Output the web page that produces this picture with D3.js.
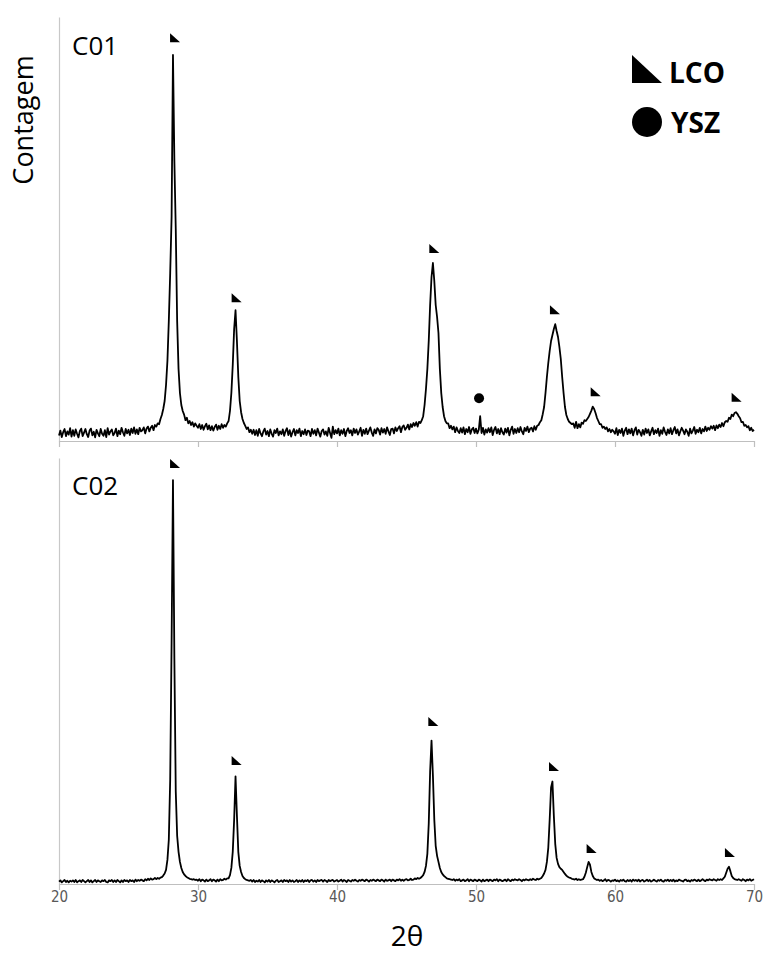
<!DOCTYPE html>
<html><head><meta charset="utf-8">
<script src="https://cdn.jsdelivr.net/npm/d3@7"></script>
<style>body{margin:0;background:#fff} svg{display:block}</style>
</head><body>
<svg id="c" width="764" height="958"></svg>
<script>
// 2θ grid: 20.0 .. 70.0, step 0.1
const thetaStart = 20, thetaStep = 0.1;
const xTicks = [20, 30, 40, 50, 60, 70];
const panelLabels = ["C01", "C02"];
const legendLabels = ["LCO", "YSZ"];

const countsC01 = [
 14,26,10,22,30,12,24,16,32,11,
 27,13,29,18,9,25,31,12,21,30,
 17,10,26,31,14,23,9,28,19,12,
 30,18,13,27,10,32,16,24,29,14,
 20,31,12,26,17,33,22,13,30,19,
 28,15,31,20,34,18,29,17,33,24,
 27,34,19,31,36,24,33,38,27,40,
 36,44,42,55,65,80,100,140,200,300,
 420,560,965,700,530,300,180,120,90,75,
 66,52,58,44,50,40,47,36,44,38,
 33,42,30,40,28,37,43,29,39,27,
 37,26,35,41,28,38,30,42,33,40,
 36,44,50,75,120,190,280,327,250,160,
 100,72,55,45,38,30,34,22,28,18,
 28,15,27,13,30,19,12,24,31,16,
 25,12,29,18,11,27,20,31,14,24,
 17,29,13,25,32,15,27,11,22,30,
 14,27,20,31,12,25,17,29,15,26,
 24,12,30,18,27,14,31,21,11,25,
 29,16,24,13,33,20,8,36,17,27,
 19,31,14,27,18,30,12,25,32,20,
 27,14,31,20,29,16,24,33,13,28,
 18,31,17,26,34,21,13,29,19,32,
 28,16,32,21,30,18,34,24,15,30,
 31,19,34,25,32,37,22,35,39,28,
 33,41,29,42,35,45,38,47,36,48,
 45,52,62,90,130,180,250,340,410,445,
 400,340,310,270,180,120,85,62,50,44,
 44,32,38,29,36,22,34,25,20,32,
 21,34,17,30,22,35,18,29,33,20,
 31,19,28,62,20,33,16,29,21,32,
 22,34,15,28,35,19,30,17,32,22,
 16,31,21,33,14,28,36,18,30,20,
 32,22,35,24,17,33,25,36,22,31,
 33,24,37,28,38,40,47,52,67,85,
 120,160,195,225,250,265,280,292,275,260,
 235,205,160,120,85,65,55,48,45,42,
 44,33,48,32,42,34,46,43,52,50,
 55,60,68,76,86,80,70,58,50,42,
 42,33,36,30,34,24,30,22,28,24,
 18,32,15,28,20,31,13,26,33,17,
 29,19,31,14,27,34,16,28,22,13,
 28,16,31,20,29,14,24,33,17,27,
 20,31,13,27,18,34,23,15,29,19,
 32,17,27,35,19,29,14,24,33,26,
 17,29,23,13,31,19,26,35,18,28,
 22,33,19,30,24,36,25,33,28,37,
 31,38,27,39,32,41,35,45,37,47,
 50,48,58,55,66,62,70,72,68,62,
 57,47,48,38,40,34,37,27,33,25,
 28
];

const countsC02 = [
 6,9,4,7,10,5,8,4,8,6,
 9,5,10,4,7,9,5,10,7,4,
 7,10,5,9,4,7,10,5,9,7,
 5,9,7,10,5,4,9,7,10,5,
 9,5,10,7,4,9,5,10,7,9,
 5,10,7,9,5,11,7,10,8,11,
 9,7,12,9,13,10,14,11,12,15,
 12,15,13,16,17,21,26,35,60,110,
 260,600,1005,560,230,120,80,55,40,30,
 24,20,17,15,13,12,11,12,10,11,
 8,12,7,11,9,6,11,7,9,12,
 7,11,9,6,11,7,12,9,10,13,
 11,14,14,22,40,80,160,268,170,80,
 45,30,20,15,12,10,9,8,10,6,
 10,5,8,6,10,5,9,7,4,9,
 6,10,5,9,7,4,8,10,5,7,
 9,5,10,7,9,5,10,6,9,5,
 7,10,5,9,6,10,5,9,7,10,
 5,9,10,6,9,5,10,7,9,10,
 6,10,8,5,10,7,9,10,6,8,
 10,6,8,11,6,10,8,5,10,8,
 6,10,8,11,8,6,10,8,11,9,
 7,11,9,6,10,8,11,9,7,11,
 9,7,11,9,6,11,8,9,11,7,
 11,9,7,11,9,12,8,11,8,11,
 12,9,10,13,10,11,14,12,15,13,
 15,18,22,30,45,75,150,280,357,270,
 160,95,70,55,40,30,24,20,17,14,
 13,12,11,10,12,8,11,9,12,7,
 9,11,7,9,12,7,11,9,7,11,
 9,7,11,9,6,11,7,9,11,7,
 11,9,7,11,9,12,7,11,9,7,
 9,11,7,12,9,7,11,9,12,10,
 9,12,10,7,11,9,12,10,9,12,
 10,13,11,10,13,11,13,15,20,26,
 35,55,90,160,240,255,170,100,65,50,
 42,38,35,30,25,21,18,16,15,13,
 12,11,13,10,12,10,11,12,18,28,
 42,55,48,30,20,14,12,10,11,8,
 10,7,9,12,7,10,9,6,9,8,
 11,7,9,6,10,8,11,7,6,10,
 7,10,6,11,8,10,7,11,6,9,
 10,6,8,11,7,10,6,8,11,8,
 6,10,8,11,7,6,10,8,11,7,
 10,7,11,6,9,7,11,9,8,6,
 10,11,7,9,6,10,8,11,9,7,
 11,7,9,12,9,7,11,9,12,10,
 9,12,10,8,12,10,12,10,14,18,
 28,38,43,32,20,15,12,11,10,12,
 10,8,12,10,7,11,9,12,8,10,
 12
];

// LCO markers: [2θ at marker's left edge, marker baseline level in counts]
const lcoC01 = [[27.99,997],[32.42,347],[46.64,470],[55.32,317],[58.25,112],[68.39,98]];
const lcoC02 = [[27.99,1035],[32.42,296],[46.57,393],[55.25,281],[57.96,77],[67.91,67]];
// YSZ markers: [2θ, level in counts]
const yszC01 = [[50.22,107]];
const yszC02 = [];

const thetas = countsC01.map((_, i) => +(thetaStart + i * thetaStep).toFixed(1));

const svg = d3.select("#c");
const x = d3.scaleLinear().domain([20, 70]).range([59, 754]);

const panels = [
  {label: panelLabels[0], data: countsC01, lco: lcoC01, ysz: yszC01, range: [441, 17], labelY: 55, showLabels: false},
  {label: panelLabels[1], data: countsC02, lco: lcoC02, ysz: yszC02, range: [884, 458], labelY: 495, showLabels: true}
];

panels.forEach(p => {
  const y = d3.scaleLinear().domain([0, 1060]).range(p.range);
  const g = svg.append("g");

  const ya = g.append("g").attr("transform", `translate(${x(20)},0)`)
    .call(d3.axisLeft(y).tickValues([]).tickSizeOuter(0));
  ya.select(".domain").attr("stroke", "#c8c8c8").attr("stroke-width", 1.2);

  const xa = g.append("g").attr("transform", `translate(0,${p.range[0]})`)
    .call(d3.axisBottom(x).tickValues(xTicks).tickSize(6).tickSizeOuter(0)
      .tickFormat(p.showLabels ? d3.format("d") : () => ""));
  xa.select(".domain").attr("stroke", "#bfbfbf").attr("stroke-width", 1.2);
  xa.selectAll(".tick line").attr("stroke", "#bfbfbf").attr("stroke-width", 1.2);
  xa.selectAll(".tick text").attr("fill", "#595959")
    .attr("font-family", "'Liberation Sans Narrow','DejaVu Sans Condensed',sans-serif")
    .attr("font-size", 15).attr("dy", "0.1em").attr("y", 16);

  const line = d3.line().x((d, i) => x(thetas[i])).y(d => y(d)).curve(d3.curveLinear);
  g.append("path").datum(p.data).attr("d", line)
    .attr("fill", "none").attr("stroke", "#000").attr("stroke-width", 1.8)
    .attr("stroke-linejoin", "round");

  g.selectAll(".lco").data(p.lco).enter().append("path")
    .attr("d", d => {
      const l = x(d[0]), b = y(d[1]);
      return `M${l},${b - 9}L${l},${b}L${l + 10},${b}Z`;
    }).attr("fill", "#000");

  g.selectAll(".ysz").data(p.ysz).enter().append("circle")
    .attr("cx", d => x(d[0])).attr("cy", d => y(d[1])).attr("r", 5).attr("fill", "#000");

  g.append("text").attr("x", 72).attr("y", p.labelY).text(p.label)
    .attr("font-family", "'Open Sans',sans-serif").attr("font-size", 26).attr("fill", "#000");
});

const lg = svg.append("g");
lg.append("path").attr("d", "M632,55L632,83L662,83Z").attr("fill", "#000");
lg.append("text").attr("x", 669).attr("y", 83).text(legendLabels[0])
  .attr("font-family", "'Open Sans',sans-serif").attr("font-weight", "bold").attr("font-size", 28);
lg.append("circle").attr("cx", 647).attr("cy", 122).attr("r", 15).attr("fill", "#000");
lg.append("text").attr("x", 671).attr("y", 133).text(legendLabels[1])
  .attr("font-family", "'Open Sans',sans-serif").attr("font-weight", "bold").attr("font-size", 28);

svg.append("text").attr("transform", "translate(33,120) rotate(-90)")
  .attr("text-anchor", "middle").text("Contagem")
  .attr("font-family", "'Open Sans',sans-serif").attr("font-size", 27).attr("fill", "#000");
svg.append("text").attr("x", 407).attr("y", 946).attr("text-anchor", "middle").text("2θ")
  .attr("font-family", "'Open Sans',sans-serif").attr("font-size", 28).attr("fill", "#000");
</script>
</body></html>
